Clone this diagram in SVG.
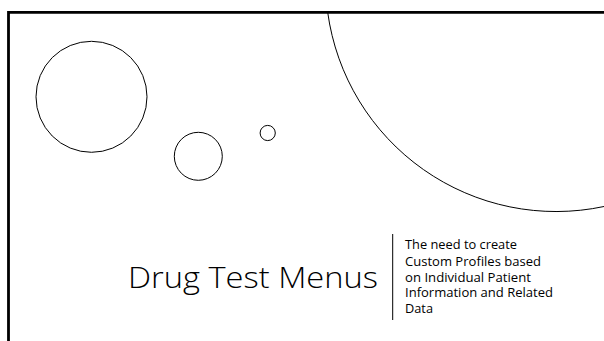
<svg xmlns="http://www.w3.org/2000/svg" width="604" height="341" viewBox="0 0 604 341">
<style>
.c{fill:none;stroke:#000;stroke-width:1}
.t{font-family:"Open Sans","Liberation Sans",sans-serif;fill:#000}
</style>
<rect x="0" y="0" width="604" height="341" fill="#fff"/>
<g id="frame"><path d="M8.5 341 V12.3 H604" fill="none" stroke="#000" stroke-width="2.8"/></g>
<g id="circles">
<circle class="c" cx="91.5" cy="96.8" r="55.5"/>
<circle class="c" cx="198.3" cy="156.3" r="24"/>
<circle class="c" cx="267.7" cy="133" r="7.6"/>
<path class="c" d="M327.7 12.3 A230.5 230.5 0 0 0 604 206.5"/>
</g>
<g id="title"><text class="t" x="128" y="288" font-size="29.5" font-weight="300" textLength="250" lengthAdjust="spacingAndGlyphs">Drug Test Menus</text></g>
<line x1="392.7" y1="234" x2="392.7" y2="320" stroke="#000" stroke-width="1"/>
<g id="subtitle" class="t" font-size="12">
<text x="405" y="249.3" textLength="112" lengthAdjust="spacingAndGlyphs">The need to create</text>
<text x="405" y="265.5" textLength="136" lengthAdjust="spacingAndGlyphs">Custom Profiles based</text>
<text x="405" y="281.5" textLength="126" lengthAdjust="spacingAndGlyphs">on Individual Patient</text>
<text x="405" y="297.3" textLength="148" lengthAdjust="spacingAndGlyphs">Information and Related</text>
<text x="405" y="313.3" textLength="28" lengthAdjust="spacingAndGlyphs">Data</text>
</g>
</svg>
